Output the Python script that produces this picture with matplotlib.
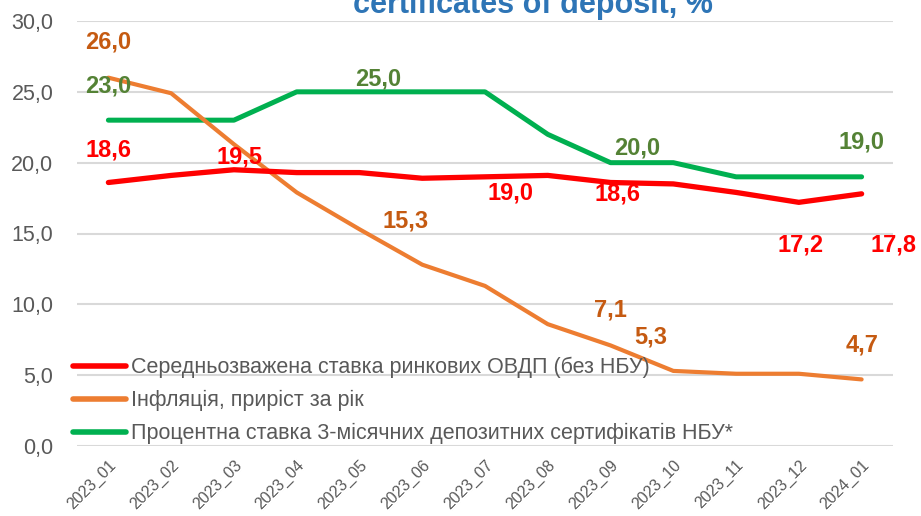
import matplotlib
matplotlib.use("Agg")
import matplotlib.pyplot as plt

plt.rcParams['font.family'] = ['Liberation Sans Narrow', 'Liberation Sans', 'DejaVu Sans']

categories = ["2023_01", "2023_02", "2023_03", "2023_04", "2023_05", "2023_06", "2023_07",
              "2023_08", "2023_09", "2023_10", "2023_11", "2023_12", "2024_01"]
ovdp = [18.6, 19.1, 19.5, 19.3, 19.3, 18.9, 19.0, 19.1, 18.6, 18.5, 17.9, 17.2, 17.8]
inflation = [26.0, 24.9, 21.3, 17.9, 15.3, 12.8, 11.3, 8.6, 7.1, 5.3, 5.1, 5.1, 4.7]
nbu_cd = [23.0, 23.0, 23.0, 25.0, 25.0, 25.0, 25.0, 22.0, 20.0, 20.0, 19.0, 19.0, 19.0]
series_names = ["Середньозважена ставка ринкових ОВДП (без НБУ)",
                "Інфляція, приріст за рік",
                "Процентна ставка 3-місячних депозитних сертифікатів НБУ*"]
title = "certificates of deposit, %"
yticks = [0, 5, 10, 15, 20, 25, 30]

# labelled points: (index, dx px, dy px)
ovdp_labels = [(0, 0, 33), (2, 6, 13), (6, 25, -16), (8, 7, -11), (11, 2, -43), (12, 32, -51)]
infl_labels = [(0, 0, 36), (4, 46, 8), (8, 0, 35), (9, -23, 34), (12, 0, 34)]
nbu_labels = [(0, 0, 34), (4, 19, 13), (8, 27, 15), (12, 0, 35)]

fig = plt.figure(figsize=(9.21, 5.16), dpi=100)
ax = fig.add_axes([77/921, 1-446/516, (893-77)/921, (446-21)/516])

x = list(range(len(categories)))
c_red, c_or, c_gr = "#FF0000", "#ED7D31", "#00B050"
ax.plot(x, ovdp, color=c_red, lw=3.8, solid_capstyle='round', label=series_names[0], zorder=4)
ax.plot(x, inflation, color=c_or, lw=3.0, solid_capstyle='round', label=series_names[1], zorder=3)
ax.plot(x, nbu_cd, color=c_gr, lw=3.6, solid_capstyle='round', label=series_names[2], zorder=2)

def add_labels(vals, labels, color):
    for i, dx, dy in labels:
        ax.annotate(f"{vals[i]:.1f}".replace('.', ','), (x[i], vals[i]),
                    xytext=(dx, dy), textcoords='offset pixels',
                    ha='center', va='center', color=color, fontsize=17,
                    fontweight='bold', zorder=6, annotation_clip=False)

add_labels(ovdp, ovdp_labels, "#FF0000")
add_labels(inflation, infl_labels, "#C55A11")
add_labels(nbu_cd, nbu_labels, "#548235")

ax.set_xlim(-0.5, len(categories) - 0.5)
ax.set_ylim(0, 30)
ax.set_yticks(yticks)
ax.set_yticklabels([f"{v:.1f}".replace('.', ',') for v in yticks])
ax.set_xticks(x)
ax.set_xticklabels(categories, rotation=45, ha='right', rotation_mode='anchor')
ax.tick_params(axis='y', length=0, labelsize=15.5, labelcolor="#595959", pad=17)
ax.tick_params(axis='x', length=0, labelsize=11.5, labelcolor="#595959", pad=8)
for s in ax.spines.values():
    s.set_visible(False)
ax.grid(axis='y', color="#D9D9D9", lw=1.5)
ax.set_axisbelow(True)

leg = ax.legend(loc='upper left', bbox_to_anchor=(73/921, 1-357/516), bbox_transform=fig.transFigure,
                frameon=False, fontsize=15.5, handlelength=2.45, handletextpad=0.25,
                labelspacing=0.55, borderaxespad=0, borderpad=0)
for t in leg.get_texts():
    t.set_color("#595959")
for h in leg.get_lines():
    h.set_linewidth(4)

fig.text(533/921, 1-13/516, title, ha='center', va='baseline', color="#2E75B6",
         fontsize=22, fontweight='bold')

fig.savefig("out.png", dpi=100)
